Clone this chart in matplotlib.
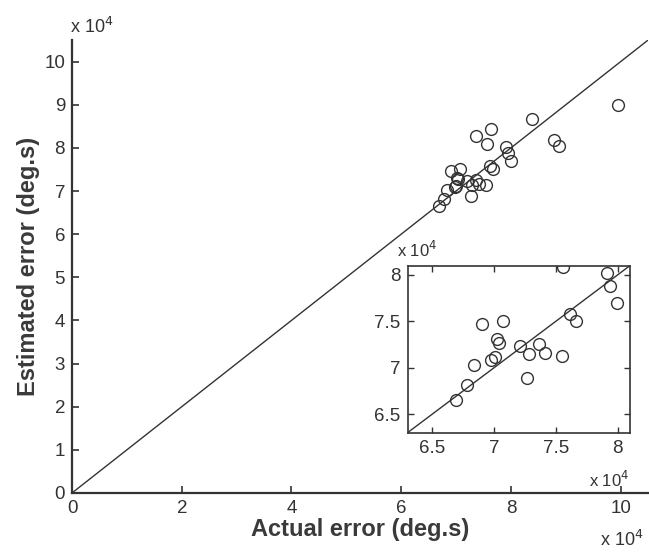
import matplotlib

matplotlib.use("Agg")
import matplotlib.pyplot as plt
from matplotlib.ticker import FuncFormatter

plt.rcParams["font.family"] = ["Liberation Sans", "DejaVu Sans"]

# actual vs estimated error (deg.s)
actual = [75580, 79180, 79400, 79940, 76130, 76670, 69010, 70730, 70240, 70400,
          72090, 73620, 72850, 74140, 75500, 70050, 69770, 68410, 72640, 67780,
          66910, 99600, 83900, 76300, 73700, 87800, 88700]
estimated = [80890, 80180, 78760, 76980, 75800, 75090, 74670, 75090, 73140, 72710,
             72290, 72530, 71430, 71540, 71290, 71110, 70830, 70300, 68870, 68160,
             66560, 90000, 86700, 84400, 82700, 81900, 80400]

MAIN_LIM = (0, 105000)
INSET_LIM = (63000, 81000)
MAIN_TICKS = [0, 20000, 40000, 60000, 80000, 100000]
MAIN_YTICKS = [i * 10000 for i in range(11)]
INSET_TICKS = [65000, 70000, 75000, 80000]

GREY = "#333333"
fmt = FuncFormatter(lambda v, _: f"{v / 1e4:g}")

fig = plt.figure(figsize=(6.49, 5.57), dpi=100)
ax = fig.add_axes([0.111, 0.115, 0.8875, 0.813])
ax.plot(MAIN_LIM, MAIN_LIM, color=GREY, lw=1.0)
ax.plot(actual, estimated, "o", mfc="none", mec=GREY, ms=8.5, mew=1.0)
ax.set_xlim(MAIN_LIM)
ax.set_ylim(MAIN_LIM)
ax.set_xticks(MAIN_TICKS)
ax.set_yticks(MAIN_YTICKS)
ax.xaxis.set_major_formatter(fmt)
ax.yaxis.set_major_formatter(fmt)
for s in ("top", "right"):
    ax.spines[s].set_visible(False)
for s in ("left", "bottom"):
    ax.spines[s].set_color(GREY)
    ax.spines[s].set_linewidth(1.6)
ax.tick_params(direction="in", length=5, width=1.2, colors=GREY, labelsize=13.5, pad=5)
ax.set_xlabel("Actual error (deg.s)", fontsize=17, fontweight="bold", color="#3a3a3a", labelpad=1)
ax.set_ylabel("Estimated error (deg.s)", fontsize=17, fontweight="bold", color="#3a3a3a", labelpad=3)
fig.text(0.108, 0.94, r"x 10$^4$", fontsize=13, color=GREY)
fig.text(0.925, 0.02, r"x 10$^4$", fontsize=13, color=GREY)

# zoomed inset
ins = fig.add_axes([0.628, 0.2232, 0.3425, 0.2998])
ins.plot(INSET_LIM, INSET_LIM, color=GREY, lw=1.0)
ins.plot(actual, estimated, "o", mfc="none", mec=GREY, ms=8.5, mew=1.0)
ins.set_xlim(INSET_LIM)
ins.set_ylim(INSET_LIM)
ins.set_xticks(INSET_TICKS)
ins.set_yticks(INSET_TICKS)
ins.xaxis.set_major_formatter(fmt)
ins.yaxis.set_major_formatter(fmt)
for s in ins.spines.values():
    s.set_color(GREY)
    s.set_linewidth(1.2)
ins.tick_params(direction="in", length=4, width=1.0, colors=GREY, labelsize=13.5,
                top=True, right=True, pad=5)
fig.text(0.612, 0.538, r"x 10$^4$", fontsize=12, color=GREY)
fig.text(0.907, 0.125, r"x 10$^4$", fontsize=12, color=GREY)

fig.savefig("out.png", dpi=100, facecolor="white")
